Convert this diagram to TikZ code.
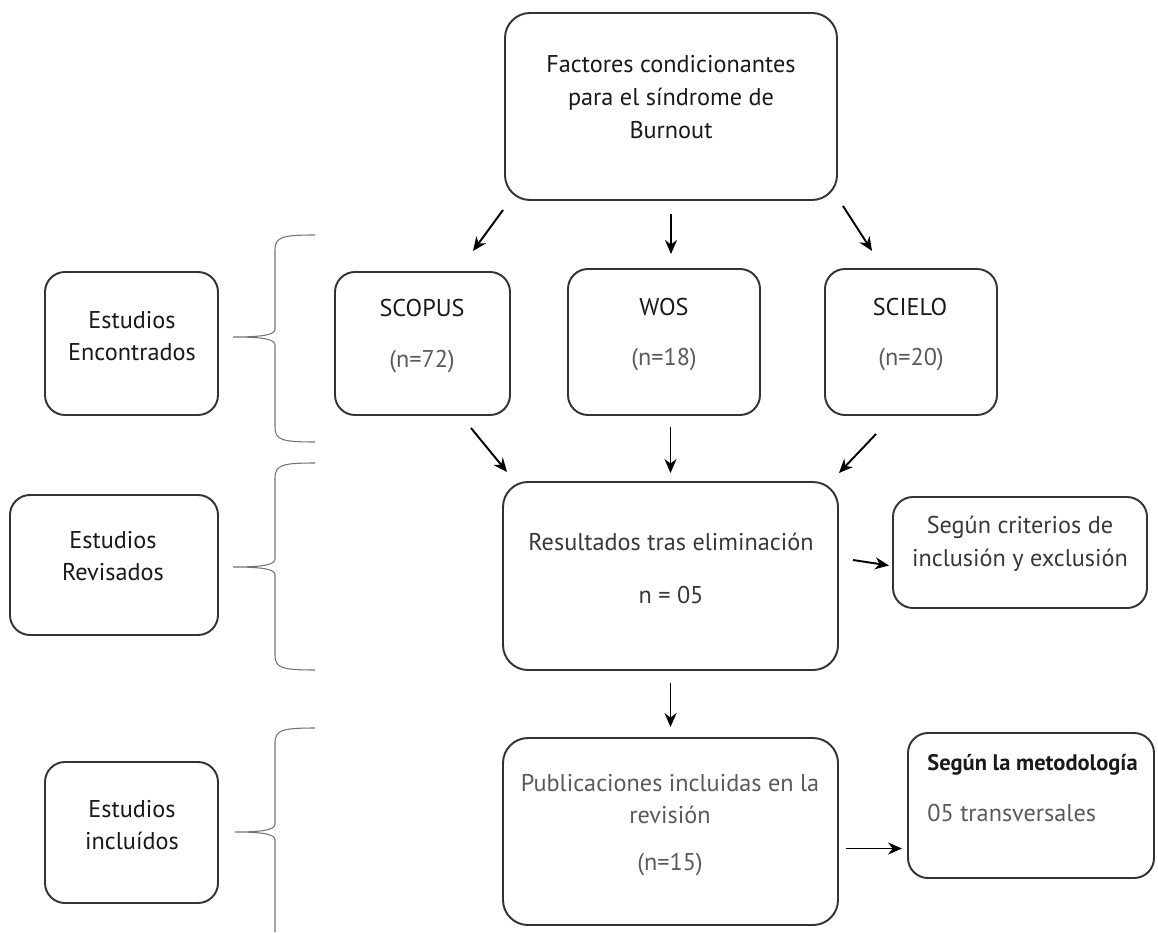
\documentclass[tikz,border=0pt]{standalone}
\usepackage{fontspec}
\setmainfont{PT Sans}
\usetikzlibrary{arrows.meta,positioning,fit}

\begin{document}
\begin{tikzpicture}[x=0.02cm,y=-0.02cm, font=\fontsize{13.8}{18.6}\selectfont,
    box/.style={draw=black!80, line width=1.1pt, rounded corners=0.5cm, inner sep=0pt},
    smallbox/.style={box, rounded corners=0.4cm},
    txt/.style={align=center, text=black!90, inner sep=0pt},
    num/.style={txt, text=black!65},
    arr/.style={-{Stealth[length=2.8mm,width=2.4mm]}, line width=1.1pt},
    brace/.style={draw=black!55, line width=0.6pt}]
\useasboundingbox (0,0) rectangle (1158,932);
% boxes
\node[box, fit={(505,13) (837,200)}] (factores) {};
\node[smallbox, fit={(335,272) (510,415)}] (scopus) {};
\node[smallbox, fit={(568,269) (760,415)}] (wos) {};
\node[smallbox, fit={(825,269) (997,415)}] (scielo) {};
\node[box, fit={(503,482) (838,670)}] (resultados) {};
\node[smallbox, fit={(893,497) (1147,608)}] (criterios) {};
\node[box, fit={(503,738) (838,925)}] (publicaciones) {};
\node[smallbox, fit={(908,733) (1154,878)}] (metodologia) {};
\node[smallbox, fit={(45,272) (218,415)}] (encontrados) {};
\node[smallbox, fit={(10,495) (218,635)}] (revisados) {};
\node[smallbox, fit={(45,762) (218,903)}] (incluidos) {};
% texts
\node[txt] (factorestxt) at (671,97) {Factores condicionantes\\para el síndrome de\\Burnout};
\node[txt] (scopustxt) at (422,308) {SCOPUS};
\node[num] (scopusn) at (422,362) {(n=72)};
\node[txt] (wostxt) at (664,307) {WOS};
\node[num] (wosn) at (664,360) {(n=18)};
\node[txt] (scielotxt) at (910,307) {SCIELO};
\node[num] (scielon) at (911,360) {(n=20)};
\node[num, text=black!78] (resultadostxt) at (671,542) {Resultados tras eliminación};
\node[num, text=black!78] (resultadosn) at (671,595) {n = 05};
\node[num, text=black!78] (criteriostxt) at (1020,544) {Según criterios de\\inclusión y exclusión};
\node[num] (publicacionestxt) at (670,799) {Publicaciones incluidas en la\\revisión};
\node[num] (publicacionesn) at (670,865) {(n=15)};
\node[txt, anchor=west, font=\fontsize{12.8}{16}\selectfont\bfseries] (metodologiatxt) at (927,765) {Según la metodología};
\node[num, anchor=west] (metodologian) at (927,813) {05 transversales};
\node[txt] (encontradostxt) at (132,336) {Estudios\\Encontrados};
\node[txt] (revisadostxt) at (113,556) {Estudios\\Revisados};
\node[txt] (incluidostxt) at (132,825) {Estudios\\incluídos};
% braces
\foreach \t/\m/\b in {235/337/442, 463/567/670}
  \draw[brace] (315,\t) .. controls (282,\t) and (275,\t+2) .. (275,\t+15) -- (275,\m-8)
    .. controls (275,\m-2) and (262,\m) .. (233,\m) .. controls (262,\m) and (275,\m+2) .. (275,\m+8)
    -- (275,\b-15) .. controls (275,\b-2) and (282,\b) .. (315,\b);
\draw[brace] (315,728) .. controls (282,728) and (275,730) .. (275,743) -- (275,824)
  .. controls (275,830) and (262,832) .. (235,832) .. controls (262,832) and (275,834) .. (275,840)
  -- (275,932);
% arrows
\draw[arr] ([shift={(-1,9)}]factores.south west) -- ([shift={(-38,-20)}]scopus.north east);
\draw[arr] ([shift={(0,13)}]factores.south) -- ([shift={(0,-14)}]factores.south |- wos.north);
\draw[arr] ([shift={(5,5)}]factores.south east) -- ([shift={(48,-17)}]scielo.north west);
\draw[arr] ([shift={(-40,12)}]scopus.south east) -- ([shift={(5,-9)}]resultados.north west);
\draw[arr] ([shift={(0,11)}]resultados.north |- wos.south) -- ([shift={(0,-8)}]resultados.north);
\draw[arr] ([shift={(52,18)}]scielo.south west) -- ([shift={(0,-8)}]resultados.north east);
\draw[arr] ([shift={(14,-16)}]resultados.east) -- ([shift={(-3,13)}]criterios.west);
\draw[arr] ([shift={(0,12)}]resultados.south) -- ([shift={(0,-10)}]publicaciones.north);
\draw[arr] ([shift={(7,17)}]publicaciones.east) -- ([shift={(-5,43)}]metodologia.west);
\end{tikzpicture}
\end{document}
